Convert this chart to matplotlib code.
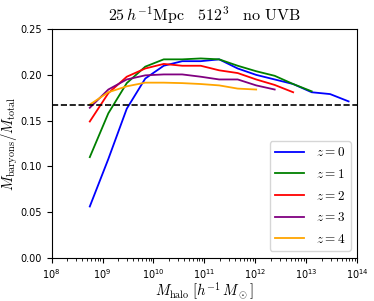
import matplotlib
matplotlib.use("Agg")
import matplotlib.pyplot as plt

plt.rcParams['mathtext.fontset'] = 'cm'

mass = [5.62e8, 1.30e9, 2.99e9, 6.90e9, 1.59e10, 3.67e10, 8.47e10, 1.95e11,
        4.51e11, 1.04e12, 2.40e12, 5.53e12, 1.28e13, 2.94e13, 6.79e13]

frac_z0 = [0.056, 0.108, 0.163, 0.196, 0.210, 0.215, 0.215, 0.217, 0.207,
           0.200, 0.195, 0.190, 0.181, 0.179, 0.171]
frac_z1 = [0.110, 0.158, 0.191, 0.209, 0.217, 0.217, 0.218, 0.217, 0.210,
           0.204, 0.199, 0.190, 0.182]
frac_z2 = [0.149, 0.180, 0.198, 0.207, 0.212, 0.210, 0.210, 0.205, 0.202,
           0.195, 0.189, 0.181]
frac_z3 = [0.164, 0.184, 0.195, 0.1995, 0.2005, 0.2005, 0.198, 0.195, 0.195,
           0.1885, 0.184]
frac_z4 = [0.1675, 0.181, 0.1875, 0.1915, 0.1915, 0.191, 0.190, 0.1885,
           0.185, 0.184]

series = [frac_z0, frac_z1, frac_z2, frac_z3, frac_z4]
labels = [r'$z = 0$', r'$z = 1$', r'$z = 2$', r'$z = 3$', r'$z = 4$']
colors = ['blue', 'green', 'red', 'purple', 'orange']
cosmic_fraction = 0.167

fig = plt.figure(figsize=(3.74, 3.01), dpi=100)
ax = fig.add_axes([0.138, 0.144, 0.817, 0.759])

for vals, lab, c in zip(series, labels, colors):
    ax.plot(mass[:len(vals)], vals, color=c, lw=1.3, label=lab)

ax.axhline(cosmic_fraction, color='black', ls='--', lw=1.2)

ax.set_xscale('log')
ax.set_xlim(1e8, 1e14)
ax.set_ylim(0.0, 0.25)
ax.set_yticks([0.0, 0.05, 0.10, 0.15, 0.20, 0.25])
ax.tick_params(labelsize=7)
ax.set_xlabel(r'$M_{\rm halo}\;[h^{-1}\,M_\odot]$', fontsize=10.5)
ax.set_ylabel(r'$M_{\rm baryons}/M_{\rm total}$', fontsize=10.5)
ax.xaxis.set_label_coords(0.5, -0.1)
ax.yaxis.set_label_coords(-0.104, 0.5)
ax.set_title(r'$25\,h^{-1}{\rm Mpc}\quad 512^3\quad {\rm no\ UVB}$', fontsize=11.5)
ax.legend(loc='lower right', fontsize=9.5, handlelength=2.2,
          labelspacing=0.65, handletextpad=0.9)

fig.savefig('out.png', dpi=100)
